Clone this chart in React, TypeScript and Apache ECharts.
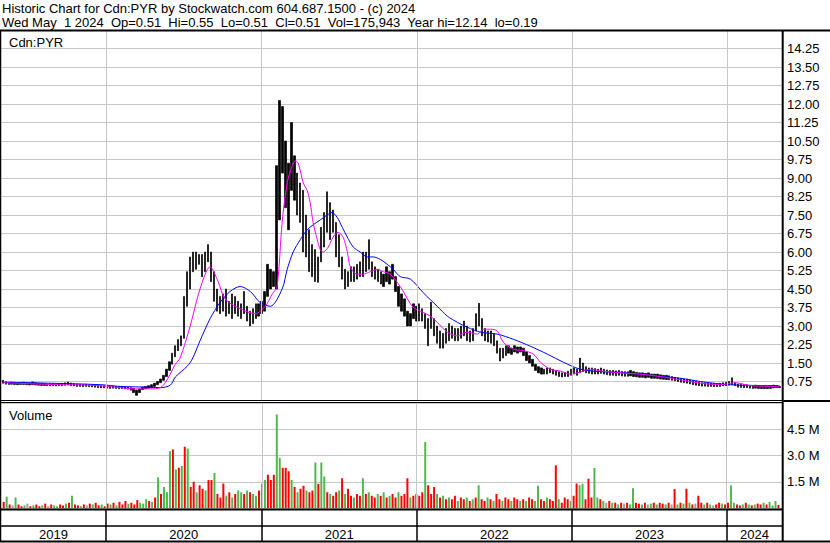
import React, { useEffect, useRef } from 'react';
import * as echarts from 'echarts';

const TITLE_LINE_1 = 'Historic Chart for Cdn:PYR by Stockwatch.com 604.687.1500 - (c) 2024';
const TITLE_LINE_2 = 'Wed May  1 2024  Op=0.51  Hi=0.55  Lo=0.51  Cl=0.51  Vol=175,943  Year hi=12.14  lo=0.19';
const SYMBOL_LABEL = 'Cdn:PYR';
const VOLUME_LABEL = 'Volume';

// axis span and week dates
const AXIS_START = '2019-04-29';
const AXIS_END = '2024-05-09';
const FIRST_WEEK = '2019-05-03';
const YEAR_LABELS = ['2019', '2020', '2021', '2022', '2023', '2024'];
const YEAR_BOUNDS = ['2019-04-29', '2020-01-01', '2021-01-01', '2022-01-01', '2023-01-01', '2024-01-01', '2024-05-09'];

// weekly price ranges (high / low)
const weeklyHigh = [
  0.80, 0.74, 0.72, 0.73, 0.72, 0.70, 0.71, 0.72, 0.70, 0.69,
  0.73, 0.70, 0.68, 0.68, 0.67, 0.66, 0.67, 0.66, 0.65, 0.66,
  0.68, 0.70, 0.73, 0.69, 0.66, 0.65, 0.64, 0.63, 0.64, 0.62,
  0.62, 0.61, 0.60, 0.58, 0.58, 0.57, 0.56, 0.57, 0.56, 0.55,
  0.55, 0.54, 0.53, 0.50, 0.47, 0.40, 0.45, 0.52, 0.55, 0.58,
  0.62, 0.68, 0.75, 0.85, 1.00, 1.25, 1.55, 1.90, 2.20, 2.45,
  2.60, 4.20, 5.20, 5.80, 6.00, 6.00, 5.90, 5.90, 6.00, 6.30,
  6.00, 5.20, 4.50, 4.20, 4.30, 4.50, 4.00, 4.30, 4.20, 4.00,
  3.90, 4.40, 3.80, 3.60, 3.70, 3.90, 3.90, 4.00, 4.40, 5.50,
  5.30, 5.20, 9.50, 12.14, 11.90, 10.50, 9.60, 11.25, 9.90, 9.20,
  8.80, 8.50, 7.50, 6.90, 6.30, 6.10, 5.80, 7.00, 7.60, 8.44,
  8.00, 7.70, 7.20, 6.70, 5.80, 5.30, 5.20, 5.40, 5.40, 5.50,
  5.60, 6.00, 6.00, 6.50, 5.60, 5.40, 5.30, 5.20, 5.10, 5.40,
  5.20, 5.50, 5.00, 4.60, 4.30, 4.10, 3.60, 3.50, 3.90, 3.80,
  3.90, 3.70, 3.50, 3.30, 3.96, 3.30, 3.00, 2.80, 2.70, 2.90,
  3.10, 3.00, 2.90, 2.90, 3.00, 3.20, 3.00, 2.80, 2.90, 3.50,
  3.92, 3.30, 2.90, 2.80, 2.80, 2.70, 2.40, 2.10, 2.10, 2.20,
  2.20, 2.10, 2.20, 2.15, 2.15, 2.10, 1.95, 1.80, 1.65, 1.45,
  1.35, 1.30, 1.25, 1.30, 1.30, 1.25, 1.20, 1.15, 1.10, 1.12,
  1.17, 1.25, 1.30, 1.25, 1.70, 1.50, 1.35, 1.30, 1.30, 1.28,
  1.25, 1.30, 1.25, 1.22, 1.20, 1.20, 1.18, 1.20, 1.16, 1.15,
  1.15, 1.20, 1.15, 1.12, 1.10, 1.10, 1.08, 1.10, 1.05, 1.05,
  1.05, 1.02, 1.00, 1.00, 0.98, 0.95, 0.92, 0.90, 0.88, 0.85,
  0.85, 0.82, 0.78, 0.75, 0.72, 0.70, 0.70, 0.68, 0.68, 0.67,
  0.66, 0.68, 0.70, 0.72, 0.75, 0.90, 0.70, 0.65, 0.63, 0.62,
  0.62, 0.60, 0.58, 0.60, 0.58, 0.57, 0.58, 0.56, 0.57, 0.60, 0.58, 0.55,
];
const weeklyLow = [
  0.68, 0.64, 0.63, 0.64, 0.63, 0.62, 0.63, 0.63, 0.62, 0.61,
  0.62, 0.61, 0.60, 0.59, 0.59, 0.58, 0.58, 0.58, 0.57, 0.58,
  0.58, 0.60, 0.61, 0.58, 0.57, 0.55, 0.55, 0.54, 0.55, 0.54,
  0.53, 0.52, 0.50, 0.49, 0.49, 0.48, 0.47, 0.48, 0.47, 0.46,
  0.46, 0.45, 0.44, 0.40, 0.30, 0.19, 0.30, 0.42, 0.46, 0.48,
  0.50, 0.55, 0.62, 0.70, 0.80, 0.95, 1.20, 1.45, 1.75, 2.00,
  2.20, 2.50, 3.80, 4.50, 5.20, 5.30, 5.50, 5.00, 5.20, 5.60,
  4.80, 4.00, 3.60, 3.50, 3.60, 3.40, 3.50, 3.30, 3.50, 3.40,
  3.30, 3.50, 3.20, 3.00, 3.10, 3.30, 3.40, 3.50, 3.60, 4.20,
  4.50, 4.60, 4.50, 7.30, 9.20, 7.80, 6.90, 8.50, 8.10, 7.50,
  7.20, 6.00, 5.80, 5.20, 5.00, 4.80, 4.77, 5.60, 6.20, 6.80,
  6.50, 6.80, 5.80, 5.40, 4.90, 4.50, 4.60, 4.80, 4.80, 4.90,
  5.00, 5.00, 5.20, 5.30, 5.00, 4.90, 4.80, 4.70, 4.60, 4.80,
  4.70, 4.90, 4.40, 3.80, 3.60, 3.40, 3.00, 3.00, 3.30, 3.20,
  3.20, 3.20, 2.90, 2.20, 2.90, 2.60, 2.30, 2.10, 2.10, 2.30,
  2.40, 2.50, 2.40, 2.40, 2.50, 2.60, 2.40, 2.35, 2.40, 2.80,
  3.00, 2.60, 2.40, 2.35, 2.30, 2.20, 1.90, 1.58, 1.70, 1.80,
  1.90, 1.85, 1.95, 1.90, 1.95, 1.80, 1.60, 1.50, 1.37, 1.20,
  1.10, 1.05, 1.05, 1.05, 1.10, 1.05, 1.00, 0.95, 0.93, 0.95,
  0.95, 1.00, 1.05, 1.00, 1.10, 1.15, 1.10, 1.08, 1.05, 1.05,
  1.05, 1.08, 1.05, 1.02, 1.00, 1.00, 0.98, 1.00, 0.97, 0.96,
  0.96, 0.98, 0.95, 0.94, 0.92, 0.92, 0.90, 0.92, 0.88, 0.88,
  0.87, 0.85, 0.84, 0.83, 0.82, 0.80, 0.78, 0.75, 0.72, 0.70,
  0.68, 0.65, 0.62, 0.60, 0.58, 0.56, 0.56, 0.55, 0.55, 0.54,
  0.54, 0.55, 0.57, 0.58, 0.60, 0.62, 0.58, 0.52, 0.51, 0.50,
  0.50, 0.48, 0.47, 0.48, 0.47, 0.46, 0.46, 0.46, 0.47, 0.49, 0.50, 0.50,
];

// weekly volume in millions, with colour code (g up, r down, x unchanged)
const weeklyVolume = [
  0.35, 0.65, 0.2, 0.15, 0.6, 0.2, 0.1, 0.15, 0.25, 0.1,
  0.15, 0.2, 0.1, 0.15, 0.25, 0.1, 0.2, 0.15, 0.1, 0.2,
  0.15, 0.25, 0.3, 0.7, 0.2, 0.15, 0.1, 0.2, 0.15, 0.25,
  0.2, 0.3, 0.15, 0.2, 0.1, 0.25, 0.2, 0.3, 0.15, 0.35,
  0.2, 0.4, 0.25, 0.3, 0.2, 0.45, 0.3, 0.25, 0.5, 0.4,
  0.35, 0.6, 1.75, 0.8, 1.2, 0.9, 3.25, 3.35, 2.2, 2.3,
  2.4, 3.5, 3.4, 1.2, 1.5, 0.9, 1.3, 1.1, 1.0, 1.6,
  1.6, 2.0, 0.8, 0.6, 1.4, 0.7, 0.9, 0.6, 0.8, 1.0,
  0.9, 0.8, 1.0, 0.9, 0.8, 0.7, 1.0, 1.4, 1.6, 1.9,
  1.6, 1.9, 5.35, 2.87, 2.3, 2.3, 2.1, 1.6, 1.2, 0.9,
  1.1, 1.27, 1.0, 0.9, 1.0, 2.6, 1.38, 2.6, 1.8, 0.9,
  0.8, 0.7, 0.9, 1.0, 1.7, 0.8, 1.1, 0.7, 0.6, 0.8,
  0.7, 1.7, 0.8, 0.9, 0.7, 0.6, 0.8, 0.7, 0.9, 0.6,
  0.7, 0.8, 0.6, 0.9, 0.7, 0.8, 1.7, 0.6, 0.7, 0.8,
  0.7, 0.9, 3.77, 1.3, 0.8, 1.2, 0.8, 0.6, 0.7, 0.5,
  0.6, 0.5, 0.7, 0.4, 0.6, 0.5, 0.6, 0.4, 0.5, 0.6,
  1.3, 0.5, 0.4, 0.6, 0.5, 0.4, 0.8, 0.5, 0.4, 0.6,
  0.5, 0.4, 0.6, 0.5, 0.4, 0.5, 0.4, 0.6, 0.5, 0.4,
  1.27, 0.5, 0.4, 0.6, 0.5, 0.4, 2.44, 0.5, 0.3, 0.6,
  0.5, 0.4, 0.7, 1.4, 1.3, 1.38, 0.5, 1.67, 0.6, 2.29,
  0.6, 0.5, 0.4, 0.3, 0.4, 0.3, 0.3, 0.2, 0.3, 0.25,
  0.3, 0.2, 1.13, 0.3, 0.25, 0.2, 0.3, 0.2, 0.25, 0.3,
  0.2, 0.3, 0.25, 0.2, 0.3, 0.2, 1.08, 0.2, 0.3, 0.25,
  1.1, 0.3, 0.2, 0.25, 0.7, 0.3, 0.2, 0.3, 0.2, 0.15,
  0.2, 0.3, 0.25, 0.2, 0.3, 1.29, 0.3, 0.2, 0.15, 0.2,
  0.3, 0.2, 0.15, 0.2, 0.25, 0.2, 0.3, 0.2, 0.35, 0.15, 0.4, 0.18,
];
const volumeDirection = [
  'rgrxgrrgxr', 'grrgrxrggr', 'rgrgrrgrxr', 'grrgrrgrgr', 'rrgrrrgggr',
  'grgrgggrgr', 'grgrrgrrgr', 'rgrrrgrgrg', 'grgrggrggr', 'rrggrrrgrg',
  'rrgrrgrggr', 'grrgrgrrgr', 'rgrgrrgrgr', 'grrgrrrgrr', 'rrgrrrgrgr',
  'grrgrrgrgr', 'grrgrgrrgr', 'rgrrgrgrrg', 'grrgrrrgrr', 'rgrrggrrrg',
  'grgxrgrgrx', 'rggrrgrxgr', 'grrgrxrgrg', 'rgrxrrgrgx', 'rrgrrggrrg',
  'rgrgrrgrgggr',
].join('');

// moving averages: [week, price]
const maShort = [
  [0, 0.70], [9, 0.66], [19, 0.62], [29, 0.60], [38, 0.52], [44.5, 0.45], [49.5, 0.45],
  [53, 0.50], [54.6, 0.70], [56.3, 1.05], [58, 1.45], [59.6, 1.70], [63, 3.0], [66.3, 4.5],
  [69.7, 5.4], [72.4, 4.8], [74.7, 4.1], [79.8, 3.7], [84.8, 3.5], [88.2, 3.8], [90.6, 4.3],
  [92.2, 4.6], [93.9, 7.2], [95.6, 8.8], [97.3, 9.5], [98.3, 9.7], [99.3, 9.6], [101, 8.8],
  [102.3, 8.5], [103.3, 8.0], [104.3, 7.2], [105.7, 6.5], [106.7, 6.1], [107.7, 6.0],
  [109.4, 6.2], [111, 6.6], [112.7, 6.8], [114.4, 6.6], [115.8, 6.0], [116.8, 5.4],
  [119, 5.1], [121, 5.1], [123.5, 5.2], [125.9, 5.3], [127.9, 5.2], [130.2, 5.1],
  [133.6, 4.6], [136, 4.1], [138, 3.75], [141.3, 3.55], [143.7, 3.4], [146, 3.15],
  [149.4, 2.75], [152.8, 2.6], [156.1, 2.75], [159.5, 2.67], [161.5, 2.87], [163.9, 2.87],
  [166.2, 2.8], [168.2, 2.34], [171.6, 2.06], [175, 2.0], [178.3, 1.86], [180.7, 1.53],
  [184, 1.25], [187.4, 1.17], [190.7, 1.05], [194, 1.13], [197.5, 1.25], [200.8, 1.18],
  [207.6, 1.1], [214, 1.05], [221, 0.95], [227.7, 0.82], [234.5, 0.68], [241.2, 0.62],
  [246.2, 0.70], [251.3, 0.58], [261, 0.55],
];
const maLong = [
  [0, 0.72], [16, 0.68], [33, 0.62], [39.4, 0.55], [49.5, 0.52], [53, 0.50], [56.3, 0.60],
  [58, 0.93], [62, 1.37], [63.7, 1.66], [66.3, 2.4], [69.7, 3.3], [73, 3.95], [76.4, 4.4],
  [79.8, 4.6], [83.2, 4.4], [86.5, 3.95], [89.9, 3.8], [93.9, 4.5], [95.6, 5.3], [97.6, 6.0],
  [100, 6.5], [102.3, 6.9], [104.3, 7.1], [106.7, 7.3], [109, 7.5], [110.7, 7.6], [112.4, 7.4],
  [114.1, 7.0], [115.8, 6.6], [117.8, 6.2], [120.1, 6.0], [122.5, 5.8], [124.5, 5.8],
  [126.9, 5.7], [129.2, 5.5], [131.2, 5.3], [133.6, 5.0], [137, 4.9], [141.3, 4.35],
  [146, 3.8], [149.4, 3.4], [152.8, 3.15], [156.1, 2.95], [160.5, 2.75], [166.2, 2.67],
  [171.6, 2.46], [177.3, 2.18], [183, 1.86], [188.4, 1.53], [194, 1.25], [200.8, 1.15],
  [207.6, 1.12], [217.7, 1.0], [227.7, 0.88], [234.5, 0.75], [241.2, 0.65], [248, 0.60],
  [261, 0.58],
];

const PRICE_MAX = 15;
const PRICE_STEP = 0.75;
const VOL_MAX = 6e6;
const VOL_STEP = 1.5e6;

const FONT = '"Liberation Sans", Arial, Helvetica, sans-serif';
const DAY = 86400000;

function ts(s: string) {
  const [y, m, d] = s.split('-').map(Number);
  return new Date(y, m - 1, d).getTime();
}

function buildOption() {
  const t0 = ts(FIRST_WEEK);
  const weekTime = (w: number) => t0 + w * 7 * DAY;
  const tMin = ts(AXIS_START);
  const tMax = ts(AXIS_END);
  const colorOf: Record<string, string> = { g: '#4fb94f', r: '#ff0000', x: '#a0a0a0' };

  const candles = weeklyHigh.map((h, i) => [weekTime(i), weeklyLow[i], h, weeklyLow[i], h]);
  const volumes = weeklyVolume.map((v, i) => ({
    value: [weekTime(i), v * 1e6],
    itemStyle: { color: colorOf[volumeDirection[i]] || '#a0a0a0' },
  }));
  const innerYearLines = YEAR_BOUNDS.slice(1, -1).map((d) => ({ xAxis: ts(d) }));

  const gridLineSeries = (idx: number) => ({
    type: 'line',
    xAxisIndex: idx,
    yAxisIndex: idx,
    data: [],
    silent: true,
    z: 1,
    markLine: {
      silent: true,
      symbol: ['none', 'none'],
      label: { show: false },
      lineStyle: { color: '#c8c8c8', width: 1, type: 'solid' },
      data: innerYearLines,
    },
  });

  const ts13 = (lh: number) => ({
    fontFamily: FONT,
    fontSize: 13,
    lineHeight: lh,
    fontWeight: 'normal',
    color: '#000',
  });

  return {
    animation: false,
    backgroundColor: '#ffffff',
    title: [
      { text: TITLE_LINE_1, left: 2, top: 1, padding: 0, textStyle: ts13(14) },
      { text: TITLE_LINE_2, left: 2, top: 16, padding: 0, textStyle: ts13(13) },
      { text: SYMBOL_LABEL, left: 9, top: 35, padding: 0, textStyle: ts13(14) },
      { text: VOLUME_LABEL, left: 9, top: 408, padding: 0, textStyle: ts13(14) },
    ],
    grid: [
      { left: 1, top: 30, width: 781, height: 370 },
      { left: 1, top: 403, width: 781, height: 105 },
      { left: 1, top: 510, width: 781, height: 32 },
    ],
    xAxis: [0, 1, 2].map((g) => ({
      type: 'time',
      gridIndex: g,
      min: tMin,
      max: tMax,
      show: false,
      splitLine: { show: false },
    })),
    yAxis: [
      {
        type: 'value',
        gridIndex: 0,
        position: 'right',
        min: 0,
        max: PRICE_MAX,
        interval: PRICE_STEP,
        axisLine: { show: false },
        axisTick: { show: false },
        splitLine: { lineStyle: { color: '#c8c8c8', width: 1 } },
        axisLabel: {
          margin: 5,
          fontFamily: FONT,
          fontSize: 13,
          color: '#000',
          formatter: (v: number) => (v <= 0 || v >= PRICE_MAX ? '' : v.toFixed(2)),
        },
      },
      {
        type: 'value',
        gridIndex: 1,
        position: 'right',
        min: 0,
        max: VOL_MAX,
        interval: VOL_STEP,
        axisLine: { show: false },
        axisTick: { show: false },
        splitLine: { lineStyle: { color: '#c8c8c8', width: 1 } },
        axisLabel: {
          margin: 5,
          fontFamily: FONT,
          fontSize: 13,
          color: '#000',
          formatter: (v: number) => (v <= 0 || v >= VOL_MAX ? '' : (v / 1e6).toFixed(1) + ' M'),
        },
      },
      { type: 'value', gridIndex: 2, min: 0, max: 2, show: false },
    ],
    series: [
      gridLineSeries(0),
      gridLineSeries(1),
      {
        type: 'candlestick',
        xAxisIndex: 0,
        yAxisIndex: 0,
        data: candles,
        encode: { x: 0, y: [1, 2, 3, 4] },
        barWidth: 1.8,
        z: 2,
        itemStyle: {
          color: '#000',
          color0: '#000',
          borderColor: '#000',
          borderColor0: '#000',
          borderWidth: 0.7,
        },
      },
      {
        type: 'line',
        xAxisIndex: 0,
        yAxisIndex: 0,
        data: maLong.map(([w, v]) => [weekTime(w), v]),
        showSymbol: false,
        smooth: 0.3,
        z: 3,
        lineStyle: { color: '#0000ff', width: 1 },
      },
      {
        type: 'line',
        xAxisIndex: 0,
        yAxisIndex: 0,
        data: maShort.map(([w, v]) => [weekTime(w), v]),
        showSymbol: false,
        smooth: 0.3,
        z: 4,
        lineStyle: { color: '#ff00ff', width: 1 },
      },
      {
        type: 'bar',
        xAxisIndex: 1,
        yAxisIndex: 1,
        data: volumes,
        barWidth: 2,
        z: 2,
      },
      {
        type: 'line',
        xAxisIndex: 2,
        yAxisIndex: 2,
        data: [],
        silent: true,
        markArea: {
          silent: true,
          itemStyle: { color: 'rgba(0,0,0,0)' },
          label: { show: true, position: 'inside', fontFamily: FONT, fontSize: 13, color: '#000' },
          data: YEAR_LABELS.map((y, i) => [
            { name: y, xAxis: ts(YEAR_BOUNDS[i]), yAxis: 0 },
            { xAxis: ts(YEAR_BOUNDS[i + 1]), yAxis: 1 },
          ]),
        },
        markLine: {
          silent: true,
          symbol: ['none', 'none'],
          label: { show: false },
          lineStyle: { color: '#000', width: 1.5, type: 'solid' },
          data: innerYearLines,
        },
      },
    ],
    graphic: [
      { type: 'line', silent: true, z: 100, shape: { x1: 0, y1: 30.5, x2: 830, y2: 30.5 }, style: { stroke: '#000', lineWidth: 2 } },
      { type: 'line', silent: true, z: 100, shape: { x1: 782.7, y1: 30, x2: 782.7, y2: 542 }, style: { stroke: '#000', lineWidth: 2 } },
      { type: 'line', silent: true, z: 100, shape: { x1: 0.5, y1: 30, x2: 0.5, y2: 542 }, style: { stroke: '#000', lineWidth: 1.5 } },
      { type: 'line', silent: true, z: 100, shape: { x1: 0, y1: 400.5, x2: 782, y2: 400.5 }, style: { stroke: '#000', lineWidth: 1 } },
      { type: 'line', silent: true, z: 100, shape: { x1: 0, y1: 402.5, x2: 782, y2: 402.5 }, style: { stroke: '#000', lineWidth: 1 } },
      { type: 'line', silent: true, z: 100, shape: { x1: 782, y1: 401, x2: 830, y2: 401 }, style: { stroke: '#000', lineWidth: 2 } },
      { type: 'line', silent: true, z: 100, shape: { x1: 0, y1: 509.5, x2: 782, y2: 509.5 }, style: { stroke: '#000', lineWidth: 2 } },
      { type: 'line', silent: true, z: 100, shape: { x1: 0, y1: 526, x2: 782, y2: 526 }, style: { stroke: '#000', lineWidth: 1.5 } },
      { type: 'line', silent: true, z: 100, shape: { x1: 0, y1: 541.5, x2: 830, y2: 541.5 }, style: { stroke: '#000', lineWidth: 2 } },
    ],
  };
}

export default function App() {
  const ref = useRef<HTMLDivElement>(null);
  useEffect(() => {
    if (!ref.current) return;
    const chart = echarts.init(ref.current, undefined, { renderer: 'svg' });
    chart.setOption(buildOption() as any);
    return () => chart.dispose();
  }, []);
  return (
    <>
      <style>{'svg text { white-space: pre; }'}</style>
      <div
        ref={ref}
        style={{ position: 'absolute', left: 0, top: 0, width: 830, height: 543, background: '#fff' }}
      />
    </>
  );
}
